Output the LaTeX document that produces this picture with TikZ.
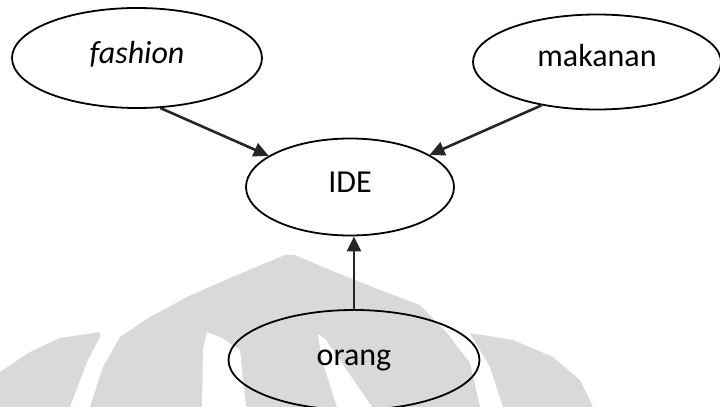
\documentclass[tikz,border=0pt]{standalone}
\usepackage{fontspec}
\setmainfont{Carlito}
\usepackage{tikz}
\usetikzlibrary{arrows.meta, positioning, shapes.geometric}

\begin{document}
\begin{tikzpicture}[
            > = {Triangle[length=7.5pt, width=7pt]}, % arrow head style
            x = 0.5pt, y = -0.5pt, % pixel units, y grows downwards
            on grid, % distances between node centres
            line width = 1.3pt % line style
        ]

        \tikzstyle{idea}=[
            ellipse,
            draw = black,
            line width = 0.9pt,
            inner sep = 0pt,
            text height = 8pt,
            text depth = 3pt,
            font = \fontsize{16pt}{19pt}\selectfont
        ]
        \tikzstyle{logo}=[fill = black!15]

        \useasboundingbox (0,0) rectangle (720,407);

        % faded logo behind the lower half
        \fill[logo] (0,372) -- (30,352) -- (60,338) -- (100,332) -- (100,337)
            -- (87,362) -- (70,407) -- (0,407) -- cycle;
        \fill[logo] (90,407) -- (103,367) -- (120,337) -- (150,317) -- (187,297)
            -- (230,278) -- (285,255) -- (295,255) -- (330,270) -- (380,290)
            -- (420,305) -- (447,333) -- (470,363) -- (480,407) -- cycle;
        \fill[logo] (470,333) -- (513,340) -- (553,357) -- (580,380)
            -- (593,407) -- (503,407) -- (490,367) -- cycle;
        \fill[white] (202,407) -- (203,350) -- (207,332) -- (222,338)
            -- (240,350) -- (246,407) -- cycle;
        \fill[white] (318,334) -- (326,340) -- (372,407) -- (337,407)
            -- (322,360) -- cycle;

        \node[idea, minimum width=104pt, minimum height=48.5pt] (ide) at (350,187) {IDE};
        \node[idea, minimum width=125pt, minimum height=50pt] (fashion)
            [above left=64.5pt and 106.5pt of ide] {\itshape fashion};
        \node[idea, minimum width=124pt, minimum height=47.5pt] (makanan)
            [above right=62.5pt and 123.5pt of ide] {makanan};
        \node[idea, minimum width=125.5pt, minimum height=50pt] (orang)
            [below=86.5pt of ide, xshift=2pt] {orang};

        \path[->, black!85] (fashion.-65) edge (ide.159);
        \path[->, black!85] (makanan.-142) edge (ide.22);
        \path[->, black!85] (orang.north) edge (orang.north |- ide.south);

\end{tikzpicture}
\end{document}
